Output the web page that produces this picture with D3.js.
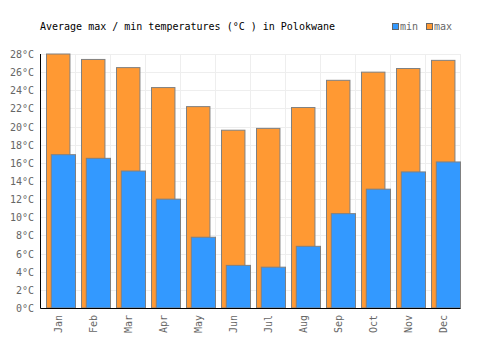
<!DOCTYPE html>
<html><head><meta charset="utf-8">
<script src="https://cdn.jsdelivr.net/npm/d3@7"></script>
<style>body{margin:0;background:#fff}svg{display:block}text{font-family:"DejaVu Sans Mono",monospace}</style>
</head><body>
<svg id="c" width="500" height="350"></svg>
<script>
const months = ["Jan","Feb","Mar","Apr","May","Jun","Jul","Aug","Sep","Oct","Nov","Dec"];
const maxTemps = [28.0,27.4,26.5,24.3,22.2,19.6,19.8,22.1,25.1,26.0,26.4,27.3];
const minTemps = [16.9,16.5,15.1,12.0,7.8,4.7,4.5,6.8,10.4,13.1,15.0,16.1];
const yTicks = [0,2,4,6,8,10,12,14,16,18,20,22,24,26,28];

const svg = d3.select("#c");
const L = 40.5, R = 460.5, T = 54, B = 308;
const x = d3.scaleBand().domain(months).range([L, R]).padding(0);
const y = d3.scaleLinear().domain([0, 28]).range([B, T]);
const bw = x.bandwidth();

// grid
svg.append("g").selectAll("line.h").data(yTicks).join("line")
  .attr("x1", L).attr("x2", R).attr("y1", d => Math.round(y(d)) + 0.5).attr("y2", d => Math.round(y(d)) + 0.5)
  .attr("stroke", "#eeeeee").attr("stroke-width", 1);
svg.append("g").selectAll("line.v").data(months.concat(["end"])).join("line")
  .attr("x1", (d, i) => L + i * bw).attr("x2", (d, i) => L + i * bw)
  .attr("y1", T).attr("y2", B).attr("stroke", "#eeeeee").attr("stroke-width", 1);

// bars
const g = svg.append("g");
months.forEach((m, i) => {
  g.append("rect").attr("x", x(m) + 6).attr("width", bw * 0.67)
    .attr("y", y(maxTemps[i])).attr("height", B - y(maxTemps[i]))
    .attr("fill", "#ff9933").attr("stroke", "#808080").attr("stroke-width", 1);
  g.append("rect").attr("x", x(m) + 10.8).attr("width", bw - 10.8)
    .attr("y", y(minTemps[i])).attr("height", B - y(minTemps[i]))
    .attr("fill", "#3399ff").attr("stroke", "#808080").attr("stroke-width", 1);
});

// axes
svg.append("line").attr("x1", L).attr("x2", L).attr("y1", T).attr("y2", B + 0.5).attr("stroke", "#000");
svg.append("line").attr("x1", L).attr("x2", R).attr("y1", B + 0.5).attr("y2", B + 0.5).attr("stroke", "#000");

// y labels
svg.append("g").selectAll("text").data(yTicks).join("text")
  .attr("x", 34).attr("y", d => y(d) + 4).attr("text-anchor", "end")
  .attr("font-size", 10).attr("fill", "#666").text(d => d + "°C");

// x labels
svg.append("g").selectAll("text").data(months).join("text")
  .attr("transform", d => `translate(${x(d) + bw / 2 + 4},315) rotate(-90)`)
  .attr("text-anchor", "end").attr("font-size", 10).attr("fill", "#666").text(d => d);

// title
svg.append("text").attr("x", 40).attr("y", 30).attr("font-size", 10).attr("fill", "#000")
  .text("Average max / min temperatures (°C ) in Polokwane");

// legend
const legend = [{k:"min", c:"#3399ff", x:392}, {k:"max", c:"#ff9933", x:426}];
const lg = svg.append("g");
legend.forEach(l => {
  lg.append("rect").attr("x", l.x + 0.5).attr("y", 23.5).attr("width", 6).attr("height", 6)
    .attr("fill", l.c).attr("stroke", "#666");
  lg.append("text").attr("x", l.x + 8).attr("y", 30).attr("font-size", 10).attr("fill", "#666").text(l.k);
});
</script>
</body></html>
